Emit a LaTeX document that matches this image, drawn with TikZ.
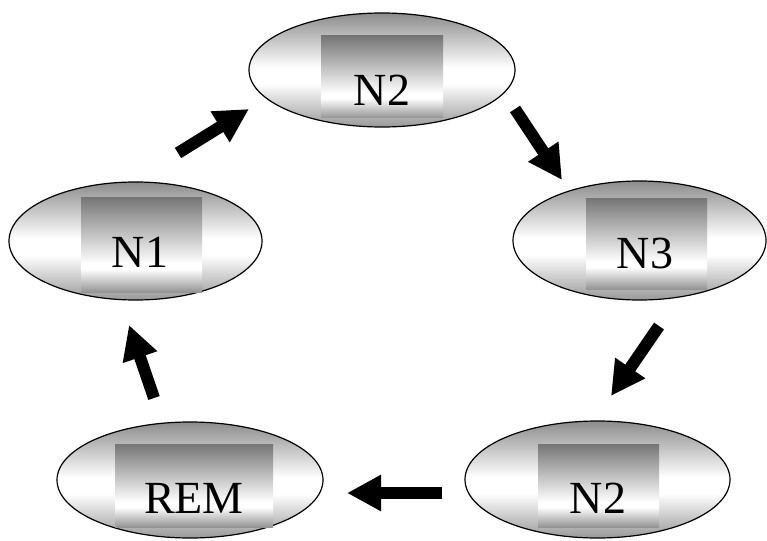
\documentclass[tikz,border=0pt]{standalone}
\usepackage{fontspec}
\setmainfont{Liberation Serif}
\usetikzlibrary{shapes.geometric,arrows.meta}
\definecolor{ebot}{gray}{0.60}
\definecolor{etop}{gray}{0.55}
\definecolor{rbot}{gray}{0.58}
\definecolor{rtop}{gray}{0.46}
\pgfdeclareverticalshading{ellshade}{100bp}{color(0bp)=(ebot); color(25bp)=(ebot); color(44bp)=(white); color(51bp)=(white); color(75bp)=(etop); color(100bp)=(etop)}
\pgfdeclareverticalshading{rectshade}{100bp}{color(0bp)=(rbot); color(25bp)=(rbot); color(37bp)=(white); color(40bp)=(white); color(75bp)=(rtop); color(100bp)=(rtop)}
\tikzset{
  ell/.style={ellipse, draw=black, line width=1.2pt, shading=ellshade, inner sep=0pt},
  box/.style={shading=rectshade},
  lbl/.style={anchor=base, inner sep=0pt, font=\fontsize{46}{50}\selectfont},
  blockarrow/.style={line width=12pt, -{Triangle[length=34pt,width=34pt]}}
}
\begin{document}
\begin{tikzpicture}[x=1pt,y=-1pt]
\useasboundingbox (0,0) rectangle (767,540);
% ellipses
\node[ell, minimum width=266pt, minimum height=114pt] (n2a) at (382,70) {};
\node[ell, minimum width=253pt, minimum height=118pt] (n1) at (135.5,241) {};
\node[ell, minimum width=253pt, minimum height=119pt] (n3) at (639.5,240.5) {};
\node[ell, minimum width=265pt, minimum height=117pt] (n2b) at (597.5,479.5) {};
\node[ell, minimum width=266pt, minimum height=116pt] (rem) at (190,480) {};
% inner boxes
\shade[box] (321,36) rectangle (443,118);
\shade[box] (81,197) rectangle (202,292);
\shade[box] (586,198) rectangle (707,289);
\shade[box] (538,444) rectangle (659,527);
\shade[box] (115,444) rectangle (273,527);
% labels
\node[lbl] (t2a) at (382,106) {N2};
\node[lbl] (t1) at (140,267) {N1};
\node[lbl] (t3) at (645,268) {N3};
\node[lbl] (t2b) at (598,513) {N2};
\node[lbl] (trem) at (194,513) {REM};
% arrow end points
\coordinate (a1s) at (178,153);
\coordinate (a1e) at (249,109);
\coordinate (a2s) at (515,109);
\coordinate (a2e) at (562,180);
\coordinate (a3s) at (659,326);
\coordinate (a3e) at (611,396);
\coordinate (a4s) at (442,493);
\coordinate (a4e) at (347,493);
\coordinate (a5s) at (154,398);
\coordinate (a5e) at (129,325);
\draw[blockarrow] (a1s) -- (a1e);
\draw[blockarrow] (a2s) -- (a2e);
\draw[blockarrow] (a3s) -- (a3e);
\draw[blockarrow] (a4s) -- (a4e);
\draw[blockarrow] (a5s) -- (a5e);
\end{tikzpicture}
\end{document}
